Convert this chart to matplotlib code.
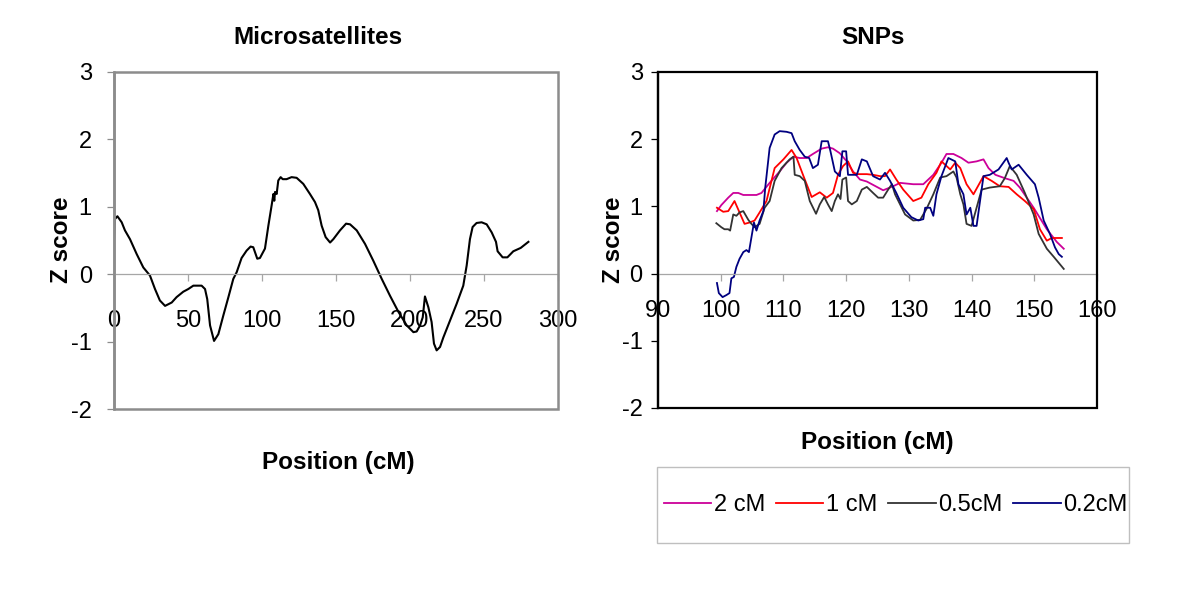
import matplotlib
matplotlib.use('Agg')
import matplotlib.pyplot as plt
from matplotlib.patches import Rectangle

plt.rcParams['font.family'] = ['Liberation Sans', 'DejaVu Sans']
plt.rcParams['axes.unicode_minus'] = False

# microsatellites scan
ms_pos = [0, 0.7, 2.3, 5.2, 7.4, 10.8, 15.3, 19.8, 24.3, 27.7, 31, 34.5, 39, 42.3, 46.8,
          50.2, 53.6, 59.2, 61.5, 63, 64.9, 67.6, 70.5, 73.9, 77.3, 80.6, 82.9, 86.2,
          89.6, 92.3, 94.1, 96.8, 98.6, 102, 104.3, 106.5, 107.7, 108.3, 108.8, 109.9,
          111, 112.6, 114, 116.6, 120, 123.4, 127.9, 132.4, 135.8, 138, 140.3, 143, 146,
          148.2, 152.7, 156.8, 159.5, 164, 169.6, 175.2, 180.9, 186.5, 192.2, 197.8,
          202.3, 204.5, 206.8, 208.6, 210.1, 212.4, 214.6, 216.2, 218, 220.3, 222.5, 227,
          231.5, 236, 238.3, 240.5, 242.3, 245, 248.4, 251.8, 255.2, 258.1, 259.2, 262.6,
          265.8, 269.8, 274.8, 280]
ms_z = [0.52, 0.82, 0.86, 0.77, 0.65, 0.52, 0.30, 0.10, -0.02, -0.22, -0.39, -0.47, -0.42,
        -0.34, -0.26, -0.22, -0.17, -0.17, -0.22, -0.37, -0.76, -0.99, -0.89, -0.61, -0.34,
        -0.07, 0.03, 0.24, 0.35, 0.41, 0.40, 0.23, 0.24, 0.38, 0.72, 1.02, 1.19, 1.09, 1.22,
        1.19, 1.39, 1.44, 1.41, 1.41, 1.44, 1.43, 1.34, 1.19, 1.07, 0.95, 0.72, 0.55, 0.47,
        0.52, 0.65, 0.75, 0.74, 0.65, 0.45, 0.20, -0.07, -0.32, -0.56, -0.76, -0.86, -0.85,
        -0.76, -0.64, -0.33, -0.49, -0.71, -1.03, -1.13, -1.08, -0.94, -0.69, -0.44, -0.17,
        0.13, 0.52, 0.70, 0.76, 0.77, 0.74, 0.62, 0.48, 0.34, 0.25, 0.25, 0.34, 0.39, 0.48]

# SNP scans at four map densities
pos_2cm = [99.4, 100.1, 101.2, 102, 102.8, 103.6, 105.7, 106.5, 107.8, 109.4, 110.5, 111.6,
           112.6, 113.7, 114.7, 116.1, 117.1, 117.9, 119, 120.1, 121.1, 122.2, 123.3, 124.3,
           125.9, 127.5, 128.6, 130.7, 132.3, 133.9, 135.2, 136, 137.1, 138.4, 139.5, 140.8,
           141.9, 142.7, 143.8, 145.3, 146.7, 147.7, 149.9, 152, 153.6, 154.7]
z_2cm = [0.93, 1.02, 1.13, 1.20, 1.20, 1.17, 1.17, 1.20, 1.35, 1.52, 1.65, 1.74, 1.72, 1.72,
         1.78, 1.86, 1.88, 1.86, 1.79, 1.67, 1.52, 1.40, 1.37, 1.32, 1.24, 1.30, 1.35, 1.33,
         1.33, 1.47, 1.65, 1.78, 1.78, 1.72, 1.65, 1.67, 1.70, 1.57, 1.47, 1.42, 1.38, 1.28,
         0.98, 0.66, 0.47, 0.37]

pos_1cm = [99.4, 100.4, 101.2, 102.2, 103, 103.8, 104.6, 105.4, 106.2, 107.3, 108.6, 110,
           111.3, 112.1, 113.2, 114.5, 115.8, 116.9, 117.9, 118.7, 119.5, 120.3, 121.1, 121.9,
           123.3, 124.3, 125.4, 126.2, 127, 128, 129.1, 130.7, 132, 133.1, 134.4, 135.2,
           136.6, 137.4, 138.2, 139.2, 140.3, 141.9, 143.2, 144.5, 145.9, 147.2, 148.5,
           149.9, 150.9, 152, 152.8, 154.4]
z_1cm = [0.98, 0.92, 0.93, 1.08, 0.91, 0.74, 0.76, 0.79, 0.91, 1.08, 1.57, 1.70, 1.84, 1.72,
         1.45, 1.14, 1.21, 1.13, 1.20, 1.47, 1.60, 1.67, 1.50, 1.48, 1.48, 1.47, 1.45, 1.45,
         1.55, 1.40, 1.25, 1.08, 1.13, 1.33, 1.50, 1.67, 1.55, 1.65, 1.57, 1.33, 1.18, 1.45,
         1.38, 1.30, 1.29, 1.18, 1.08, 0.96, 0.66, 0.49, 0.53, 0.53]

pos_05cm = [99.3, 100.1, 100.6, 101.2, 101.5, 102, 102.5, 103, 103.6, 104.4, 104.9, 105.4,
            106.2, 107, 107.8, 108.6, 109.7, 111, 111.6, 111.8, 112.6, 113.4, 114.2, 115.2,
            115.8, 116.5, 117.1, 117.7, 118.2, 118.7, 119.1, 119.4, 120, 120.3, 120.9, 121.7,
            122.5, 123.3, 124.3, 125.1, 125.9, 126.7, 127.3, 127.8, 128.6, 129.4, 130.7,
            131.8, 132.8, 133.9, 135, 136, 137.1, 137.6, 138.2, 138.7, 139.2, 140, 140.8,
            141.6, 142.9, 144.5, 145.3, 146.1, 147.2, 148.5, 149.9, 150.7, 152, 153.1, 154.7]
z_05cm = [0.75, 0.69, 0.66, 0.66, 0.64, 0.88, 0.86, 0.91, 0.93, 0.80, 0.74, 0.69, 0.74, 0.98,
          1.08, 1.38, 1.57, 1.70, 1.74, 1.47, 1.45, 1.38, 1.08, 0.89, 1.03, 1.14, 1.03, 0.93,
          1.08, 1.18, 1.11, 1.40, 1.43, 1.08, 1.03, 1.08, 1.25, 1.29, 1.20, 1.13, 1.13, 1.25,
          1.33, 1.18, 1.03, 0.88, 0.79, 0.80, 0.96, 1.18, 1.43, 1.45, 1.52, 1.43, 1.18, 1.03,
          0.74, 0.71, 0.98, 1.25, 1.28, 1.30, 1.42, 1.60, 1.47, 1.20, 0.88, 0.59, 0.37, 0.25,
          0.07]

pos_02cm = [99.4, 99.7, 100.3, 100.9, 101.4, 101.7, 102.1, 102.5, 103, 103.6, 104.1, 104.5,
            104.9, 105.3, 105.7, 106.2, 106.8, 107.1, 107.8, 108.6, 109.4, 110.5, 111.3,
            111.8, 112.6, 113.4, 114.1, 114.7, 115.5, 116.1, 117.1, 117.5, 118.2, 119, 119.4,
            120, 120.3, 120.9, 121.7, 122.5, 123.3, 124.3, 125.4, 126.2, 127, 128, 129.1,
            130.4, 131.5, 132.3, 132.6, 133.4, 133.9, 134.4, 135.2, 136.3, 137.4, 137.9,
            138.7, 139.2, 139.8, 140.3, 140.8, 141.9, 142.9, 144.3, 145.6, 145.9, 146.4,
            147.5, 148.8, 150.1, 150.7, 151.5, 152.5, 153.3, 153.9, 154.4]
z_02cm = [-0.14, -0.29, -0.35, -0.32, -0.29, -0.07, -0.05, 0.10, 0.22, 0.32, 0.35, 0.32, 0.54,
          0.76, 0.64, 0.79, 0.93, 1.28, 1.87, 2.07, 2.12, 2.11, 2.09, 1.97, 1.84, 1.74, 1.72,
          1.57, 1.62, 1.97, 1.97, 1.82, 1.52, 1.45, 1.82, 1.82, 1.47, 1.47, 1.47, 1.70, 1.67,
          1.45, 1.40, 1.50, 1.38, 1.20, 0.98, 0.84, 0.79, 0.81, 0.98, 0.98, 0.86, 1.18, 1.45,
          1.72, 1.67, 1.33, 1.18, 0.88, 0.98, 0.71, 0.71, 1.45, 1.47, 1.55, 1.72, 1.65, 1.55,
          1.62, 1.47, 1.33, 1.13, 0.79, 0.59, 0.39, 0.29, 0.25]

W, H = 1200, 606
fig = plt.figure(figsize=(12, 6.06), dpi=100)


def px(x0, y0, x1, y1):
    return [x0 / W, 1 - y1 / H, (x1 - x0) / W, (y1 - y0) / H]


def style(ax, frame_color, frame_lw, xpad, ypad):
    for s in ['top', 'right']:
        ax.spines[s].set_visible(False)
    ax.spines['left'].set_color(frame_color)
    ax.spines['left'].set_linewidth(frame_lw)
    ax.spines['bottom'].set_position(('data', 0))
    ax.spines['bottom'].set_color('#a6a6a6')
    ax.spines['bottom'].set_linewidth(0.9)
    ax.add_patch(Rectangle((0, 0), 1, 1, transform=ax.transAxes, fill=False,
                           ec=frame_color, lw=frame_lw, clip_on=False, zorder=5))
    ax.tick_params(axis='x', direction='out', length=5, width=0.9, color='#a6a6a6',
                   labelsize=17, pad=xpad)
    ax.tick_params(axis='y', direction='out', length=5, width=0.9, color=frame_color,
                   labelsize=17, pad=ypad)
    ax.set_ylim(-2, 3)
    ax.set_yticks([-2, -1, 0, 1, 2, 3])


ax1 = fig.add_axes(px(114, 72, 558, 409))
ax1.plot(ms_pos, ms_z, color='black', lw=1.5)
ax1.set_xlim(0, 300)
ax1.set_xticks(range(0, 301, 50))
style(ax1, '#8c8c8c', 1.8, 21, 11)

ax2 = fig.add_axes(px(658, 72, 1097, 408))
ax2.plot(pos_2cm, z_2cm, color='#cc0099', lw=1.3, label='2 cM')
ax2.plot(pos_1cm, z_1cm, color='#ff0000', lw=1.3, label='1 cM')
ax2.plot(pos_05cm, z_05cm, color='#333333', lw=1.3, label='0.5cM')
ax2.plot(pos_02cm, z_02cm, color='#000080', lw=1.3, label='0.2cM')
ax2.set_xlim(90, 160)
ax2.set_xticks(range(90, 161, 10))
style(ax2, 'black', 1.6, 14, 6)

fig.text(318 / W, 1 - 37 / H, 'Microsatellites', fontsize=17.5, fontweight='bold',
         ha='center', va='center')
fig.text(873 / W, 1 - 37 / H, 'SNPs', fontsize=17.5, fontweight='bold',
         ha='center', va='center')
fig.text(338 / W, 1 - 462 / H, 'Position (cM)', fontsize=17.5, fontweight='bold',
         ha='center', va='center')
fig.text(877 / W, 1 - 443 / H, 'Position (cM)', fontsize=17.5, fontweight='bold',
         ha='center', va='center')
fig.text(61 / W, 1 - 240 / H, 'Z score', fontsize=17.5, fontweight='bold',
         ha='center', va='center', rotation=90)
fig.text(614 / W, 1 - 240 / H, 'Z score', fontsize=17.5, fontweight='bold',
         ha='center', va='center', rotation=90)

# legend frame drawn separately (Excel-style box, wide vertical padding)
fig.add_artist(Rectangle((657 / W, 1 - 543 / H), 472 / W, 76 / H,
                         transform=fig.transFigure, fill=False, ec='#bfbfbf', lw=1.0))
fig.legend(loc='center', bbox_to_anchor=(896 / W, 1 - 505 / H), ncol=4,
           fontsize=17, handlelength=2.0, handletextpad=0.12, columnspacing=0.45,
           borderpad=0, frameon=False)

fig.savefig('out.png', dpi=100)
